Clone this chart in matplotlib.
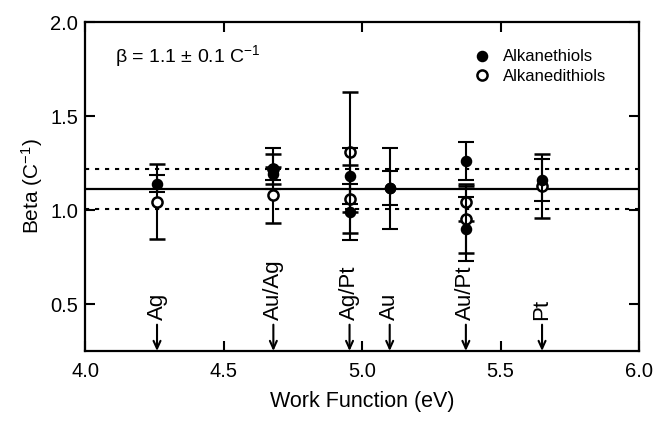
import matplotlib
matplotlib.use("Agg")
import matplotlib.pyplot as plt
from matplotlib.lines import Line2D

plt.rcParams['font.family'] = ['Liberation Sans', 'DejaVu Sans']
plt.rcParams['mathtext.fontset'] = 'custom'
plt.rcParams['mathtext.rm'] = 'Liberation Sans'
plt.rcParams['mathtext.default'] = 'regular'

# ---- data ----
thiol_x = [4.26, 4.68, 4.68, 4.955, 4.955, 5.10, 5.10, 5.375, 5.375, 5.65]
thiol_y = [1.14, 1.22, 1.19, 1.18, 0.99, 1.115, 1.115, 1.26, 0.90, 1.16]
thiol_err = [0.045, 0.11, 0.03, 0.15, 0.15, 0.215, 0.09, 0.10, 0.17, 0.11]

dithiol_x = [4.26, 4.68, 4.68, 4.955, 4.955, 5.375, 5.375, 5.65]
dithiol_y = [1.045, 1.22, 1.08, 1.31, 1.06, 1.04, 0.95, 1.13]
dithiol_err = [0.20, 0.08, 0.15, 0.32, 0.18, 0.10, 0.18, 0.17]

beta_mean = 1.112
beta_upper = 1.217
beta_lower = 1.007

metal_labels = ["Ag", "Au/Ag", "Ag/Pt", "Au", "Au/Pt", "Pt"]
metal_wf = [4.26, 4.68, 4.955, 5.10, 5.375, 5.65]

x_ticks = [4.0, 4.5, 5.0, 5.5, 6.0]
y_ticks = [0.5, 1.0, 1.5, 2.0]

# ---- figure ----
fig = plt.figure(figsize=(6.54, 4.26), dpi=100)
ax = fig.add_axes([85/654, 1-351/426, (639-85)/654, (351-22)/426])

ax.axhline(beta_mean, color='black', lw=1.6, zorder=1)
for yv in (beta_upper, beta_lower):
    ax.axhline(yv, color='black', lw=1.5, linestyle=(0, (2.0, 2.8)), zorder=1)

ax.errorbar(dithiol_x, dithiol_y, yerr=dithiol_err, fmt='o', ms=7.3,
            mfc='white', mec='black', mew=1.8, ecolor='black', elinewidth=1.5,
            capsize=6, capthick=1.5, zorder=3)
ax.errorbar(thiol_x, thiol_y, yerr=thiol_err, fmt='o', ms=7.3,
            mfc='black', mec='black', ecolor='black', elinewidth=1.5,
            capsize=6, capthick=1.5, zorder=4)

for lab, wf in zip(metal_labels, metal_wf):
    ax.annotate('', xy=(wf, 0.25), xytext=(wf, 0.39),
                arrowprops=dict(arrowstyle='->,head_length=0.55,head_width=0.25',
                                color='black', lw=1.5, shrinkA=0, shrinkB=0))
    ax.text(wf, 0.415, lab, rotation=90, ha='center', va='bottom', fontsize=16)

ax.set_xlim(4.0, 6.0)
ax.set_ylim(0.25, 2.0)
ax.set_xticks(x_ticks)
ax.set_yticks(y_ticks)
ax.set_xticklabels([f"{v:.1f}" for v in x_ticks])
ax.set_yticklabels([f"{v:.1f}" for v in y_ticks])
ax.tick_params(direction='in', length=7, width=1.5, labelsize=14.5,
               top=True, right=True)
ax.tick_params(axis='x', pad=8)
ax.tick_params(axis='y', pad=5)
for s in ax.spines.values():
    s.set_linewidth(1.6)

ax.set_xlabel('Work Function (eV)', fontsize=15.5, labelpad=7)
ax.set_ylabel('Beta (C$^{-1}$)', fontsize=15, labelpad=4)

ax.text(0.054, 0.897, r'β = 1.1 ± 0.1 C$^{-1}$', transform=ax.transAxes,
        fontsize=14, va='center', ha='left')

handles = [Line2D([], [], marker='o', ls='none', ms=7.3, mfc='black', mec='black'),
           Line2D([], [], marker='o', ls='none', ms=7.3, mfc='white', mec='black', mew=1.8)]
ax.legend(handles, ['Alkanethiols', 'Alkanedithiols'], loc='upper left',
          bbox_to_anchor=(0.686, 0.942), frameon=False, fontsize=12,
          handlelength=1.0, handletextpad=0.75, labelspacing=0.25, borderpad=0)

fig.savefig('out.png', dpi=100)
